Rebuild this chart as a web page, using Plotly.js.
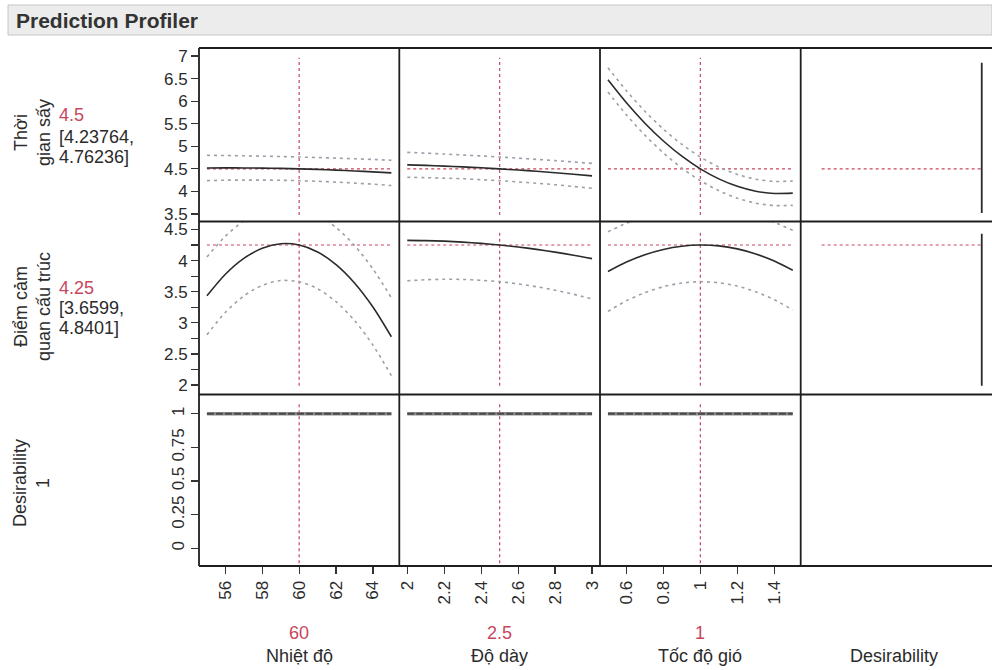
<!DOCTYPE html>
<html>
<head>
<meta charset="utf-8">
<script src="https://cdn.plot.ly/plotly-3.0.1.min.js"></script>
<style>html,body{margin:0;padding:0;background:#fff;}#chart{width:992px;height:670px;}</style>
</head>
<body>
<div id="chart"></div>
<script>
// ---------------- DATA ----------------
const factorNames = ["Nhiệt độ", "Độ dày", "Tốc độ gió"];
const factorCurrent = [60, 2.5, 1];
const responseNames = ["Thời<br>gian sấy", "Điểm cảm<br>quan cấu trúc", "Desirability<br>1"];
const responseCurrent = [4.5, 4.25, 1];
const responseCIText = [["[4.23764,", "4.76236]"], ["[3.6599,", "4.8401]"]];

const xNhietDo = [55, 56, 57, 58, 59, 60, 61, 62, 63, 64, 65];
const xDoDay = [2.0, 2.1, 2.2, 2.3, 2.4, 2.5, 2.6, 2.7, 2.8, 2.9, 3.0];
const xTocDoGio = [0.5, 0.6, 0.7, 0.8, 0.9, 1.0, 1.1, 1.2, 1.3, 1.4, 1.5];

// Thời gian sấy
const tgsPredNhiet = [4.520, 4.522, 4.520, 4.516, 4.510, 4.500, 4.488, 4.472, 4.454, 4.434, 4.410];
const tgsLoNhiet   = [4.240, 4.249, 4.251, 4.251, 4.247, 4.238, 4.225, 4.207, 4.185, 4.161, 4.130];
const tgsHiNhiet   = [4.800, 4.796, 4.789, 4.781, 4.773, 4.762, 4.751, 4.737, 4.723, 4.708, 4.690];
const tgsPredDay   = [4.589, 4.577, 4.561, 4.544, 4.523, 4.500, 4.474, 4.446, 4.415, 4.381, 4.345];
const tgsLoDay     = [4.313, 4.306, 4.294, 4.280, 4.260, 4.238, 4.211, 4.182, 4.148, 4.110, 4.069];
const tgsHiDay     = [4.865, 4.848, 4.828, 4.808, 4.786, 4.762, 4.737, 4.710, 4.682, 4.652, 4.621];
const tgsPredGio   = [6.472, 5.963, 5.511, 5.117, 4.780, 4.500, 4.278, 4.113, 4.005, 3.955, 3.962];
const tgsLoGio     = [6.202, 5.696, 5.246, 4.854, 4.518, 4.238, 4.016, 3.850, 3.740, 3.688, 3.692];
const tgsHiGio     = [6.742, 6.230, 5.776, 5.380, 5.042, 4.762, 4.540, 4.376, 4.270, 4.222, 4.232];

// Điểm cảm quan cấu trúc
const dcPredNhiet = [3.433, 3.780, 4.035, 4.198, 4.270, 4.250, 4.139, 3.935, 3.641, 3.254, 2.776];
const dcLoNhiet   = [2.808, 3.168, 3.432, 3.602, 3.679, 3.660, 3.548, 3.339, 3.038, 2.642, 2.151];
const dcHiNhiet   = [4.058, 4.392, 4.638, 4.794, 4.861, 4.840, 4.730, 4.531, 4.244, 3.866, 3.401];
const dcPredDay   = [4.325, 4.321, 4.312, 4.297, 4.276, 4.250, 4.218, 4.180, 4.136, 4.087, 4.032];
const dcLoDay     = [3.675, 3.692, 3.700, 3.697, 3.683, 3.660, 3.625, 3.580, 3.524, 3.458, 3.382];
const dcHiDay     = [4.975, 4.950, 4.924, 4.897, 4.869, 4.840, 4.811, 4.780, 4.748, 4.716, 4.682];
const dcPredGio   = [3.824, 3.976, 4.094, 4.179, 4.231, 4.250, 4.236, 4.188, 4.107, 3.993, 3.845];
const dcLoGio     = [3.184, 3.354, 3.485, 3.581, 3.639, 3.660, 3.644, 3.590, 3.498, 3.371, 3.205];
const dcHiGio     = [4.464, 4.599, 4.703, 4.777, 4.823, 4.840, 4.828, 4.786, 4.716, 4.616, 4.485];

// Desirability
const desNhiet = [1, 1, 1, 1, 1, 1, 1, 1, 1, 1, 1];
const desDay   = [1, 1, 1, 1, 1, 1, 1, 1, 1, 1, 1];
const desGio   = [1, 1, 1, 1, 1, 1, 1, 1, 1, 1, 1];

// vertical extent of the crosshair lines (response units)
const crossSpanThoiGian = [3.48, 6.96];
const crossSpanDiemCam = [1.99, 4.49];
const crossSpanDesir = [-0.11, 1.07];
// desirability function panels
const desirFnX = [0, 1];
const desirFnSpanThoiGian = [3.52, 6.85];
const desirFnSpanDiemCam = [1.99, 4.43];

// tick labels
const ticksX = [[56, 58, 60, 62, 64], [2, 2.2, 2.4, 2.6, 2.8, 3], [0.6, 0.8, 1, 1.2, 1.4], [0, 0.25, 0.5, 0.75, 1]];
const ticksY = [[3.5, 4, 4.5, 5, 5.5, 6, 6.5, 7], [2, 2.5, 3, 3.5, 4, 4.5], [0, 0.25, 0.5, 0.75, 1]];

// ---------------- LAYOUT GEOMETRY ----------------
const W = 992, H = 670;
const colPx = [[199, 399.3], [399.3, 600], [600, 800.7], [800.7, 992]];
const rowPx = [[48, 221.5], [221.5, 394.5], [394.5, 566]];
const xRanges = [[54.57, 65.43], [1.957, 3.043], [0.457, 1.543]];
const desirXRangeTop = [-0.131, 1.064];
const desirXRangeBottom = [-0.079, 1.117];
const yRanges = [[3.334, 7.177], [1.848, 4.628], [-0.131, 1.143]];

const FONT = "Liberation Sans, Arial, sans-serif";
const DARK = "#2b2b2b";
const RED = "#c8465e";
const CI = "#9aa0a8";

function ax(n) { return n === 1 ? "" : String(n); }
function idx(r, c) { return r * 4 + c + 1; }

const traces = [];
function addLine(r, c, x, y, color, width, dash, shape) {
  const n = idx(r, c);
  traces.push({
    type: "scatter", mode: "lines", x: x, y: y,
    xaxis: "x" + ax(n), yaxis: "y" + ax(n),
    line: { color: color, width: width, dash: dash || "solid", shape: shape || "linear", smoothing: 0.8 },
    hoverinfo: "skip", showlegend: false
  });
}

const xs = [xNhietDo, xDoDay, xTocDoGio];
const preds = [[tgsPredNhiet, tgsPredDay, tgsPredGio], [dcPredNhiet, dcPredDay, dcPredGio], [desNhiet, desDay, desGio]];
const los = [[tgsLoNhiet, tgsLoDay, tgsLoGio], [dcLoNhiet, dcLoDay, dcLoGio]];
const his = [[tgsHiNhiet, tgsHiDay, tgsHiGio], [dcHiNhiet, dcHiDay, dcHiGio]];
const crossSpans = [crossSpanThoiGian, crossSpanDiemCam, crossSpanDesir];
const desirSpans = [desirFnSpanThoiGian, desirFnSpanDiemCam];

for (let r = 0; r < 3; r++) {
  for (let c = 0; c < 3; c++) {
    const x = xs[c];
    const xEnds = [x[0], x[x.length - 1]];
    addLine(r, c, [factorCurrent[c], factorCurrent[c]], crossSpans[r], RED, 1.2, "3px,3px");
    if (r < 2) {
      addLine(r, c, xEnds, [responseCurrent[r], responseCurrent[r]], RED, 1.2, "3px,3px");
      addLine(r, c, x, los[r][c], CI, 1.6, "3px,4px", "spline");
      addLine(r, c, x, his[r][c], CI, 1.6, "3px,4px", "spline");
      addLine(r, c, x, preds[r][c], DARK, 1.6, "solid", "spline");
    } else {
      addLine(r, c, x, preds[r][c], "#8c8c8c", 3.6, "solid");
      addLine(r, c, x, preds[r][c], "#4a4a4a", 2, "7px,2px");
    }
  }
  if (r < 2) {
    addLine(r, 3, desirFnX, [responseCurrent[r], responseCurrent[r]], RED, 1.2, "3px,3px");
    addLine(r, 3, [desirFnX[1], desirFnX[1]], desirSpans[r], DARK, 1.8, "solid");
  }
}

const gridColor = "#1e1e1e";
const shapes = [{
  type: "rect", xref: "paper", yref: "paper",
  x0: 8 / W, x1: 1, y0: 1 - 35 / H, y1: 1 - 5 / H,
  fillcolor: "#ececec", line: { color: "#c6c6c6", width: 1 }, layer: "below"
}];
// panel frame lines
[rowPx[0][0], rowPx[1][0], rowPx[2][0], rowPx[2][1]].forEach(function (py) {
  shapes.push({ type: "line", xref: "paper", yref: "paper", x0: colPx[0][0] / W, x1: 1, y0: 1 - py / H, y1: 1 - py / H,
    line: { color: gridColor, width: 1.8 }, layer: "above" });
});
[colPx[0][0], colPx[1][0], colPx[2][0], colPx[3][0]].forEach(function (px) {
  shapes.push({ type: "line", xref: "paper", yref: "paper", x0: px / W, x1: px / W, y0: 1 - rowPx[2][1] / H, y1: 1 - rowPx[0][0] / H,
    line: { color: gridColor, width: 1.8 }, layer: "above" });
});

const layout = {
  width: W, height: H,
  margin: { l: 0, r: 0, t: 0, b: 0, pad: 0 },
  paper_bgcolor: "#ffffff", plot_bgcolor: "#ffffff",
  showlegend: false,
  font: { family: FONT, size: 17, color: DARK },
  shapes: shapes,
  annotations: []
};

for (let r = 0; r < 3; r++) {
  for (let c = 0; c < 4; c++) {
    const n = idx(r, c);
    const xr = c < 3 ? xRanges[c] : (r < 2 ? desirXRangeTop : desirXRangeBottom);
    layout["xaxis" + ax(n)] = {
      domain: [colPx[c][0] / W, colPx[c][1] / W], range: xr, anchor: "y" + ax(n),
      showline: false, showgrid: false, zeroline: false, fixedrange: true,
      ticks: r === 2 ? "outside" : "", ticklen: 7, tickcolor: "#333", tickwidth: 1.2,
      showticklabels: r === 2, tickmode: "array", tickvals: ticksX[c], tickangle: -90,
      tickfont: { family: FONT, size: 17, color: DARK }
    };
    const yax = {
      domain: [1 - rowPx[r][1] / H, 1 - rowPx[r][0] / H], range: yRanges[r], anchor: "x" + ax(n),
      showline: false, showgrid: false, zeroline: false, fixedrange: true,
      ticks: c === 0 ? "outside" : "", ticklen: 7, tickcolor: "#333", tickwidth: 1.2,
      showticklabels: c === 0, tickmode: "array", tickvals: ticksY[r],
      tickfont: { family: FONT, size: 17, color: DARK }
    };
    if (r === 2) yax.tickangle = -90;
    if (r === 1 && c === 0) {
      yax.minor = { ticks: "outside", ticklen: 7, tickcolor: "#333", tickwidth: 1.2, tick0: 0, dtick: 0.25 };
    }
    layout["yaxis" + ax(n)] = yax;
  }
}

function ann(text, xpx, ypx, opts) {
  layout.annotations.push(Object.assign({
    text: text, xref: "paper", yref: "paper", x: xpx / W, y: 1 - ypx / H,
    showarrow: false, xanchor: "center", yanchor: "middle",
    font: { family: FONT, size: 18, color: DARK }
  }, opts || {}));
}

// header
ann("<b>Prediction Profiler</b>", 14, 20.5, { xanchor: "left", font: { family: FONT, size: 21, color: "#333" } });

// row titles
const rowTitleY = [133, 307, 483];
for (let r = 0; r < 3; r++) {
  ann(responseNames[r], 32, rowTitleY[r], { textangle: -90 });
}
// current response values with CI
const valueY = [[115, 136.5, 156.5], [288, 308, 327.5]];
for (let r = 0; r < 2; r++) {
  ann(String(responseCurrent[r]), 57, valueY[r][0], { xanchor: "left", font: { family: FONT, size: 18, color: RED } });
  ann(responseCIText[r][0], 57, valueY[r][1], { xanchor: "left" });
  ann(responseCIText[r][1], 57, valueY[r][2], { xanchor: "left" });
}
// column titles
for (let c = 0; c < 4; c++) {
  const cx = (colPx[c][0] + colPx[c][1]) / 2;
  if (c < 3) {
    ann(String(factorCurrent[c]), cx, 633, { font: { family: FONT, size: 18, color: RED } });
    ann(factorNames[c], cx, 656);
  } else {
    ann("Desirability", cx - 2, 656);
  }
}

Plotly.newPlot("chart", traces, layout, { staticPlot: true, displayModeBar: false });
</script>
</body>
</html>
